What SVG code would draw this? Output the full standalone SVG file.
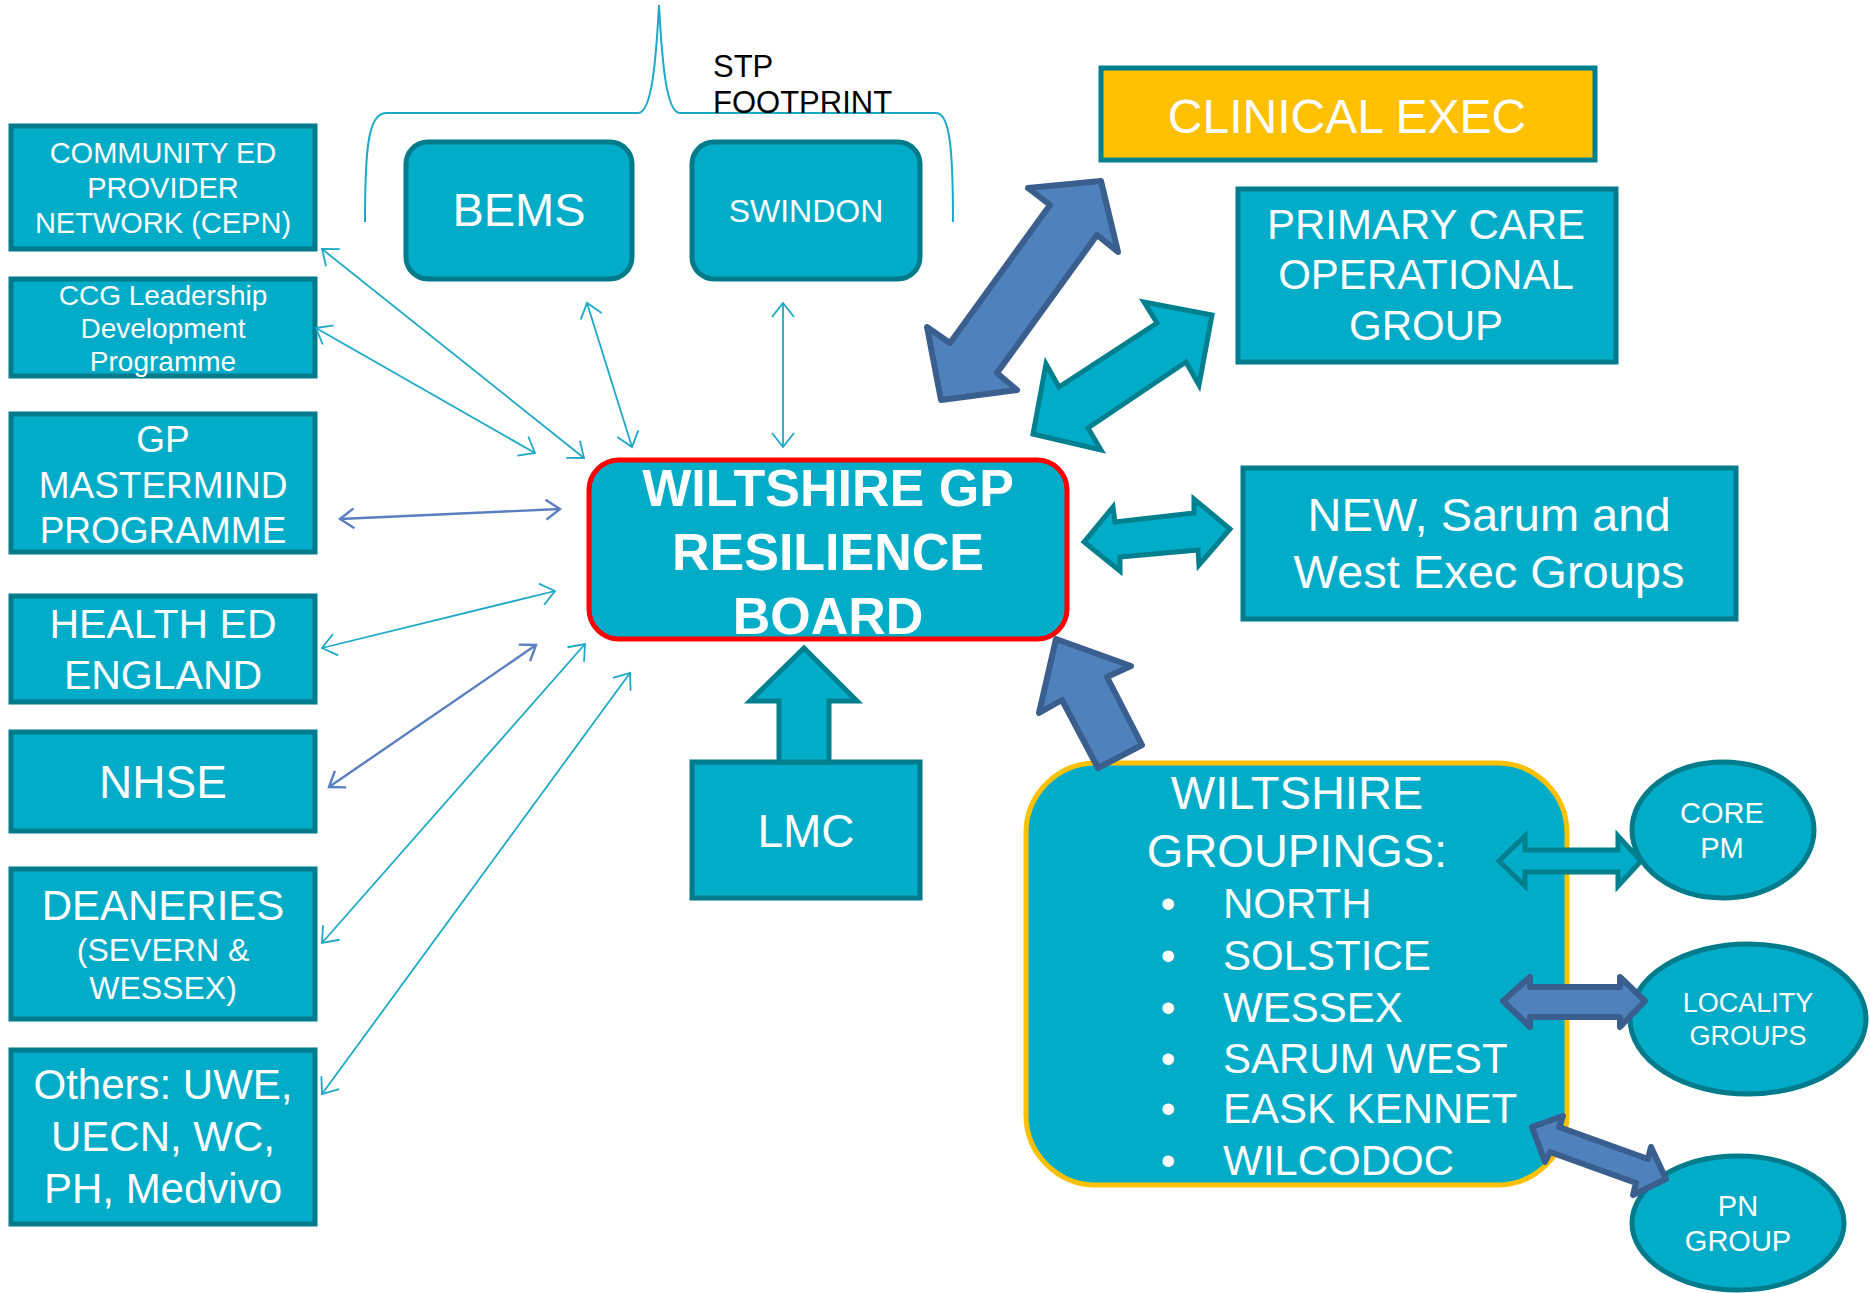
<svg xmlns="http://www.w3.org/2000/svg" width="1870" height="1293" viewBox="0 0 1870 1293">
<defs>
<style>
.box{fill:#00ACC8;stroke:#007B8C;stroke-width:5}
.t{font-family:"Liberation Sans",Arial,sans-serif;fill:#FFFFFF;text-anchor:middle}
.tb{font-family:"Liberation Sans",Arial,sans-serif;fill:#FFFFFF;text-anchor:middle;font-weight:bold}
.thin{fill:none;stroke:#1DA9C6;stroke-width:1.8}
.thinb{fill:none;stroke:#5A7EC0;stroke-width:2.4}
.blk{fill:#00ACC8;stroke:#00808F;stroke-width:5;stroke-linejoin:miter}
.blue{fill:#4F81BD;stroke:#3A5F8F;stroke-width:6;stroke-linejoin:round}
</style>
<marker id="mt" markerUnits="userSpaceOnUse" markerWidth="22" markerHeight="28" viewBox="-17 -14 22 28" refX="0" refY="0" orient="auto-start-reverse">
<path d="M-14,-11 L0,0 L-14,11" fill="none" stroke="#1DA9C6" stroke-width="1.8"/>
</marker>
<marker id="mb" markerUnits="userSpaceOnUse" markerWidth="22" markerHeight="28" viewBox="-17 -14 22 28" refX="0" refY="0" orient="auto-start-reverse">
<path d="M-14,-10 L0,0 L-14,10" fill="none" stroke="#5A7EC0" stroke-width="2.4"/>
</marker>
</defs>
<rect width="1870" height="1293" fill="#FFFFFF"/>

<g id="stp-footprint">
<path d="M365,222 C365,150 368,113 386,113 L638,113 C652,113 656,60 659,5 C662,60 666,113 680,113 L936,113 C950,113 953,150 953,222" fill="none" stroke="#1DA9C6" stroke-width="2"/>
<text x="713" y="77" font-family="&quot;Liberation Sans&quot;,Arial,sans-serif" font-size="31" fill="#000000">STP</text>
<text x="713" y="113" font-family="&quot;Liberation Sans&quot;,Arial,sans-serif" font-size="31" fill="#000000">FOOTPRINT</text>
</g>

<g id="cepn">
<rect class="box" x="11" y="126" width="304" height="123"/>
<text class="t" font-size="29" x="163" y="163">COMMUNITY ED</text>
<text class="t" font-size="29" x="163" y="198">PROVIDER</text>
<text class="t" font-size="29" x="163" y="233">NETWORK (CEPN)</text>
</g>
<g id="ccg">
<rect class="box" x="11" y="279" width="304" height="97"/>
<text class="t" font-size="28" x="163" y="305">CCG Leadership</text>
<text class="t" font-size="28" x="163" y="338">Development</text>
<text class="t" font-size="28" x="163" y="371">Programme</text>
</g>
<g id="gp-mastermind">
<rect class="box" x="11" y="414" width="304" height="138"/>
<text class="t" font-size="37" x="163" y="452">GP</text>
<text class="t" font-size="37" x="163" y="498">MASTERMIND</text>
<text class="t" font-size="37" x="163" y="543">PROGRAMME</text>
</g>
<g id="health-ed">
<rect class="box" x="11" y="596" width="304" height="106"/>
<text class="t" font-size="41" x="163" y="638">HEALTH ED</text>
<text class="t" font-size="41" x="163" y="689">ENGLAND</text>
</g>
<g id="nhse">
<rect class="box" x="11" y="732" width="304" height="99"/>
<text class="t" font-size="46" x="163" y="798">NHSE</text>
</g>
<g id="deaneries">
<rect class="box" x="11" y="869" width="304" height="150"/>
<text class="t" font-size="42" x="163" y="920">DEANERIES</text>
<text class="t" font-size="32" x="163" y="961">(SEVERN &amp;</text>
<text class="t" font-size="32" x="163" y="999">WESSEX)</text>
</g>
<g id="others">
<rect class="box" x="11" y="1050" width="304" height="174"/>
<text class="t" font-size="42" x="163" y="1099">Others: UWE,</text>
<text class="t" font-size="42" x="163" y="1151">UECN, WC,</text>
<text class="t" font-size="42" x="163" y="1203">PH, Medvivo</text>
</g>

<g id="bems">
<rect class="box" x="406" y="142" width="226" height="137" rx="22"/>
<text class="t" font-size="47" x="519" y="226">BEMS</text>
</g>
<g id="swindon">
<rect class="box" x="692" y="142" width="228" height="137" rx="22"/>
<text class="t" font-size="32" x="806" y="222">SWINDON</text>
</g>

<g id="clinical-exec">
<rect x="1101" y="68" width="494" height="92" fill="#FFC000" stroke="#00808F" stroke-width="5"/>
<text class="t" font-size="48" x="1347" y="133">CLINICAL EXEC</text>
</g>
<g id="primary-care">
<rect class="box" x="1238" y="189" width="378" height="173"/>
<text class="t" font-size="42" x="1426" y="239">PRIMARY CARE</text>
<text class="t" font-size="42" x="1426" y="289">OPERATIONAL</text>
<text class="t" font-size="42" x="1426" y="340">GROUP</text>
</g>
<g id="new-sarum-west">
<rect class="box" x="1243" y="468" width="493" height="151"/>
<text class="t" font-size="47" x="1489" y="531">NEW, Sarum and</text>
<text class="t" font-size="47" x="1489" y="588">West Exec Groups</text>
</g>

<g id="resilience-board">
<rect x="589" y="460" width="478" height="179" rx="30" fill="#00ACC8" stroke="#FF0000" stroke-width="5"/>
<text class="tb" font-size="52" x="828" y="506">WILTSHIRE GP</text>
<text class="tb" font-size="52" x="828" y="570">RESILIENCE</text>
<text class="tb" font-size="52" x="828" y="634">BOARD</text>
</g>

<g id="lmc">
<rect class="box" x="692" y="762" width="228" height="136"/>
<text class="t" font-size="46" x="806" y="847">LMC</text>
</g>

<g id="wiltshire-groupings">
<rect x="1026" y="763" width="541" height="422" rx="70" fill="#00ACC8" stroke="#FFC000" stroke-width="5"/>
<text class="t" font-size="47" x="1297" y="809">WILTSHIRE</text>
<text class="t" font-size="47" x="1297" y="867">GROUPINGS:</text>
<g font-family="&quot;Liberation Sans&quot;,Arial,sans-serif" font-size="42" fill="#FFFFFF">
<text x="1168" y="918" text-anchor="middle">•</text><text x="1223" y="918">NORTH</text>
<text x="1168" y="970" text-anchor="middle">•</text><text x="1223" y="970">SOLSTICE</text>
<text x="1168" y="1022" text-anchor="middle">•</text><text x="1223" y="1022">WESSEX</text>
<text x="1168" y="1073" text-anchor="middle">•</text><text x="1223" y="1073">SARUM WEST</text>
<text x="1168" y="1123" text-anchor="middle">•</text><text x="1223" y="1123">EASK KENNET</text>
<text x="1168" y="1175" text-anchor="middle">•</text><text x="1223" y="1175">WILCODOC</text>
</g>
</g>

<g id="core-pm">
<ellipse class="box" cx="1723" cy="830" rx="91" ry="68"/>
<text class="t" font-size="29" x="1722" y="823">CORE</text>
<text class="t" font-size="29" x="1722" y="858">PM</text>
</g>
<g id="locality-groups">
<ellipse class="box" cx="1748" cy="1019" rx="118" ry="75"/>
<text class="t" font-size="27" x="1748" y="1012">LOCALITY</text>
<text class="t" font-size="27" x="1748" y="1045">GROUPS</text>
</g>
<g id="pn-group">
<ellipse class="box" cx="1738" cy="1223" rx="106" ry="67"/>
<text class="t" font-size="29" x="1738" y="1216">PN</text>
<text class="t" font-size="29" x="1738" y="1251">GROUP</text>
</g>

<g id="connectors">
<line class="thin" x1="322" y1="249" x2="584" y2="458" marker-start="url(#mt)" marker-end="url(#mt)"/>
<line class="thin" x1="316" y1="328" x2="535" y2="453" marker-start="url(#mt)" marker-end="url(#mt)"/>
<line class="thin" x1="587" y1="303" x2="632" y2="447" marker-start="url(#mt)" marker-end="url(#mt)"/>
<line class="thin" x1="783" y1="303" x2="783" y2="447" marker-start="url(#mt)" marker-end="url(#mt)"/>
<line class="thinb" x1="340" y1="519" x2="560" y2="509" marker-start="url(#mb)" marker-end="url(#mb)"/>
<line class="thin" x1="322" y1="648" x2="555" y2="591" marker-start="url(#mt)" marker-end="url(#mt)"/>
<line class="thinb" x1="329" y1="787" x2="536" y2="645" marker-start="url(#mb)" marker-end="url(#mb)"/>
<line class="thin" x1="322" y1="943" x2="585" y2="644" marker-start="url(#mt)" marker-end="url(#mt)"/>
<line class="thin" x1="322" y1="1094" x2="630" y2="673" marker-start="url(#mt)" marker-end="url(#mt)"/>

<polygon class="blue" points="1101,181 1118,252 1097,235 997,373 1017,390 941,400 927,327 950,343 1050,205 1028,188"/>
<polygon class="blk" points="1212,315 1199,385 1186,362 1088,428 1101,450 1033,434 1046,364 1059,387 1157,323 1144,302"/>
<polygon class="blk" points="1084,542 1113,507 1115,522 1194,513 1194,499 1230,529 1199,565 1198,550 1120,557 1120,571"/>
<polygon class="blue" points="1056,639 1131,666 1107,677 1142,745 1098,768 1062,700 1039,713"/>
<polygon class="blk" stroke-width="4" points="1499,861 1525,836 1525,850 1618,850 1618,836 1641,861 1618,886 1618,872 1525,872 1525,886"/>
<polygon class="blue" stroke-width="4" points="1503,1001 1530,977 1530,987 1620,987 1620,977 1645,1001 1620,1027 1620,1017 1530,1017 1530,1027"/>
<polygon class="blue" stroke-width="4" points="1532,1127 1563,1116 1559,1127 1648,1159 1651,1147 1666,1179 1633,1195 1636,1183 1550,1152 1545,1162"/>

<polygon class="blk" stroke-width="4" points="804,648 857,701 829,701 829,762 779,762 779,701 750,701"/>
</g>
</svg>
